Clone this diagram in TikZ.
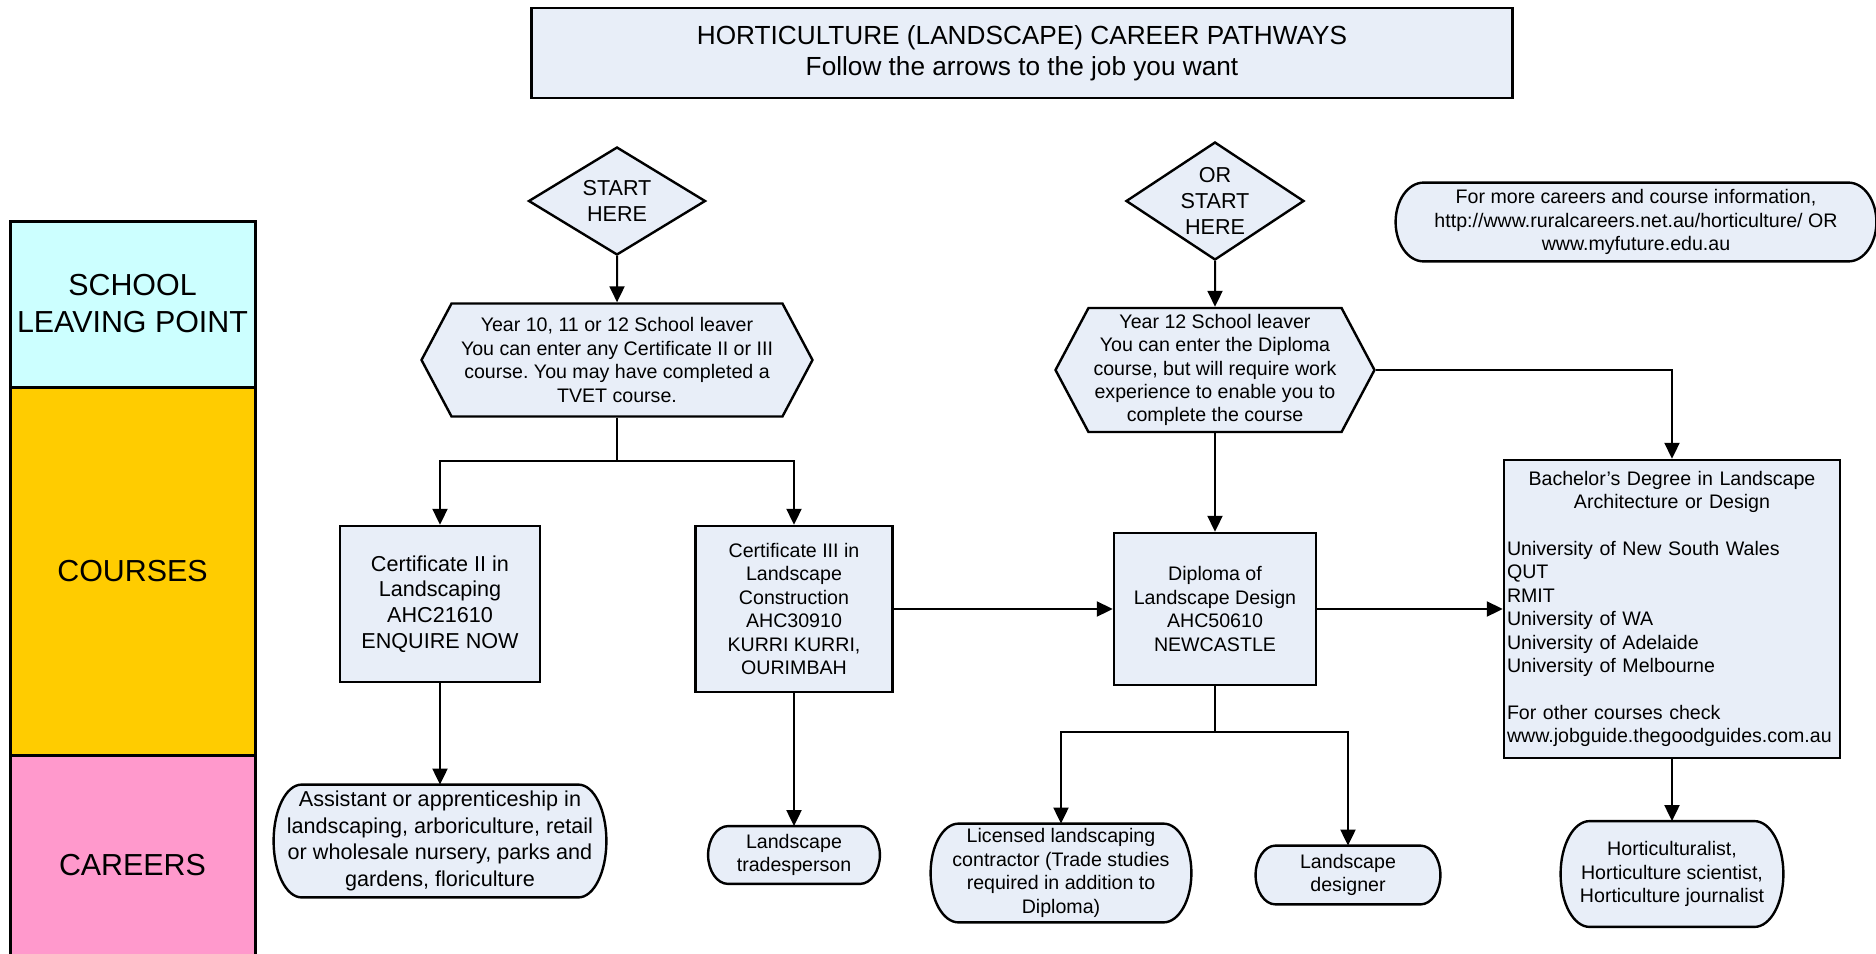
\documentclass[tikz,border=0pt]{standalone}
\usepackage{fontspec}
\setmainfont{Liberation Sans}
\frenchspacing
\usetikzlibrary{shapes,arrows.meta,calc,backgrounds}

\definecolor{boxfill}{HTML}{E8EEF8}
\definecolor{schoolcol}{HTML}{CCFFFF}
\definecolor{coursecol}{HTML}{FFCC00}
\definecolor{careercol}{HTML}{FF99CC}

% outline with elliptic ends round a career node: #1 node, #2 end radius
\newcommand{\careeroutline}[2]{%
  \path[draw, line width=1.2pt, fill=boxfill]
    let \p1=(#1.north east), \p2=(#1.south west) in
    (\x2+#2,\y1) -- (\x1-#2,\y1)
    arc[start angle=90, end angle=-90, x radius=#2, y radius={0.5*(\y1-\y2)}]
    -- (\x2+#2,\y2)
    arc[start angle=270, end angle=90, x radius=#2, y radius={0.5*(\y1-\y2)}]
    -- cycle;
}

\begin{document}
\begin{tikzpicture}[
    x=0.5pt, y=-0.5pt,
    every node/.style={font=\fontsize{9.8}{11.7}\selectfont},
    headbox/.style={
        rectangle, draw, line width=1.2pt, fill=boxfill,
        minimum width=490.5pt, minimum height=45pt,
        align=center, font=\fontsize{13.1}{15.5}\selectfont
    },
    startbox/.style={
        diamond, draw, line width=1.2pt, fill=boxfill,
        inner sep=-3pt, shape aspect=1.6, align=center,
        font=\fontsize{10.8}{13}\selectfont
    },
    leaver/.style={
        signal, signal to=west and east, signal pointer angle=124,
        draw, line width=1.2pt, fill=boxfill,
        inner sep=1pt, align=center
    },
    course/.style={
        rectangle, draw, line width=1.2pt, fill=boxfill,
        inner sep=1.5pt, align=center
    },
    career/.style={
        rectangle, inner sep=1pt, align=center
    },
    band/.style={
        rectangle, draw, line width=1.5pt, minimum width=122.5pt,
        align=center, font=\fontsize{15.2}{18.5}\selectfont
    },
    link/.style={
        line width=1pt, -{Triangle[length=8pt,width=7.5pt]}
    }
]

% Page size
\useasboundingbox (0,0) rectangle (1876,954);

% Left column
\node[band, fill=schoolcol, minimum height=83pt] (school) at (132.5,304) {SCHOOL\\LEAVING POINT};
\node[band, fill=coursecol, minimum height=184pt] (courses) at (132.5,571) {COURSES};
\node[band, fill=careercol, minimum height=110.5pt] (careers) at (132.5,865.5) {CAREERS};

% Heading
\node[headbox] (title) at (1022,53) {HORTICULTURE (LANDSCAPE) CAREER PATHWAYS\\Follow the arrows to the job you want};

\node[career, minimum width=240pt, minimum height=39pt] (info) at (1636,222) {
    For more careers and course information,\\
    http://www.ruralcareers.net.au/horticulture/ OR\\
    www.myfuture.edu.au
};

% Start points
\node[startbox, minimum width=88.5pt, minimum height=54pt] (start1) at (617,201) {START\\HERE};
\node[startbox, minimum width=89pt, minimum height=59pt] (start2) at (1215,201) {OR\\START\\HERE};

% School leavers
\node[leaver, minimum width=195.5pt, minimum height=56.5pt] (leaver1) at (617,360) {
    Year 10, 11 or 12 School leaver\\
    You can enter any Certificate II or III\\
    course. You may have completed a\\
    TVET course.
};
\node[leaver, minimum width=159.5pt, minimum height=62pt] (leaver2) at (1215,370) {
    Year 12 School leaver\\
    You can enter the Diploma\\
    course, but will require work\\
    experience to enable you to\\
    complete the course
};

% Courses
\node[course, minimum width=100pt, minimum height=78pt, font=\fontsize{10.8}{12.8}\selectfont] (cert2) at (440,604) {
    Certificate II in\\Landscaping\\AHC21610\\ENQUIRE NOW
};
\node[course, minimum width=98.5pt, minimum height=83pt] (cert3) at (794,609) {
    Certificate III in\\Landscape\\Construction\\AHC30910\\KURRI KURRI,\\OURIMBAH
};
\node[course, minimum width=101pt, minimum height=76pt] (dip) at (1215,609) {
    Diploma of\\Landscape Design\\AHC50610\\NEWCASTLE
};
\node[course, text width=165pt, align=left, inner xsep=1.5pt, minimum height=149pt] (bach) at (1672,609) {
    {\centering Bachelor's Degree in Landscape\\Architecture or Design\par}
    \vspace{11.7pt}
    University of New South Wales\\
    QUT\\
    RMIT\\
    University of WA\\
    University of Adelaide\\
    University of Melbourne\\[11.7pt]
    For other courses check\\
    www.jobguide.thegoodguides.com.au
};

% Careers
\node[career, minimum width=166pt, minimum height=56pt, font=\fontsize{10.8}{13.2}\selectfont] (assist) at (440,841) {
    Assistant or apprenticeship in\\
    landscaping, arboriculture, retail\\
    or wholesale nursery, parks and\\
    gardens, floriculture
};
\node[career, minimum width=85.5pt, minimum height=28.5pt] (trades) at (794,855) {Landscape\\tradesperson};
\node[career, minimum width=130pt, minimum height=49pt] (licensed) at (1061,873) {
    Licensed landscaping\\
    contractor (Trade studies\\
    required in addition to\\
    Diploma)
};
\node[career, minimum width=92pt, minimum height=29pt] (designer) at (1348,875) {Landscape\\designer};
\node[career, minimum width=111pt, minimum height=52.5pt] (hort) at (1672,874) {
    Horticulturalist,\\
    Horticulture scientist,\\
    Horticulture journalist
};

% Outlines behind the career texts
\begin{pgfonlayer}{background}
\careeroutline{info}{14pt}
\careeroutline{assist}{14pt}
\careeroutline{trades}{10pt}
\careeroutline{licensed}{14pt}
\careeroutline{designer}{10pt}
\careeroutline{hort}{14.5pt}
\end{pgfonlayer}

% Split points
\coordinate (split1) at (617,461);
\coordinate (split2) at (1215,732);

% Connectors
\draw[link] (start1) -- (leaver1);
\draw[link] (start2) -- (leaver2);
\draw[line width=1pt] (leaver1.south) -- (split1);
\draw[link] (split1) -| (cert2.north);
\draw[link] (split1) -| (cert3.north);
\draw[link] (leaver2.south) -- (dip.north);
\draw[link] (leaver2.east) -| (bach.north);
\draw[link] (cert3.east) -- (dip.west);
\draw[link] (dip.east) -- (bach.west);
\draw[link] (cert2.south) -- (assist.north);
\draw[link] (cert3.south) -- (trades.north);
\draw[line width=1pt] (dip.south) -- (split2);
\draw[link] (split2) -| (licensed.north);
\draw[link] (split2) -| (designer.north);
\draw[link] (bach.south) -- (hort.north);

\end{tikzpicture}
\end{document}
